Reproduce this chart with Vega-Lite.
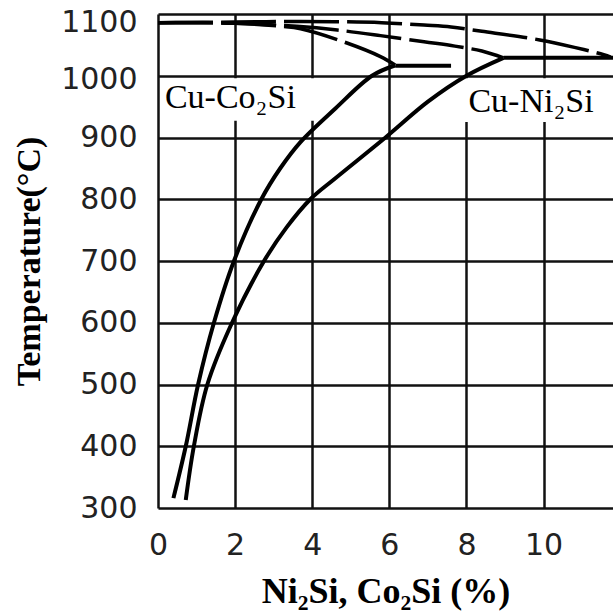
{
  "$schema": "https://vega.github.io/schema/vega-lite/v6.json",
  "width": 455,
  "height": 494,
  "autosize": {"type": "none"},
  "padding": {"left": 158, "top": 14, "right": 0, "bottom": 108},
  "background": "white",
  "config": {"view": {"stroke": null}},
  "encoding": {
    "x": {
      "field": "x",
      "type": "quantitative",
      "scale": {"domain": [0, 11.8], "nice": false, "zero": false},
      "axis": {
        "title": "Ni₂Si, Co₂Si (%)",
        "values": [0, 2, 4, 6, 8, 10],
        "format": "d",
        "grid": true,
        "gridColor": "#111111",
        "gridWidth": 2.5,
        "domain": false,
        "ticks": false,
        "tickSize": 0,
        "labelFlush": false,
        "labelOverlap": false,
        "labelFont": "DejaVu Sans",
        "labelFontSize": 30,
        "labelColor": "#222222",
        "labelPadding": 22,
        "titleFont": "Liberation Serif",
        "titleFontSize": 36,
        "titleFontWeight": "bold",
        "titleColor": "#000000",
        "titlePadding": 14
      }
    },
    "y": {
      "field": "y",
      "type": "quantitative",
      "scale": {"domain": [300, 1100], "nice": false, "zero": false},
      "axis": {
        "title": "Temperature(°C)",
        "values": [300, 400, 500, 600, 700, 800, 900, 1000, 1100],
        "format": "d",
        "grid": true,
        "gridColor": "#111111",
        "gridWidth": 2.5,
        "domain": false,
        "ticks": false,
        "tickSize": 0,
        "labelFlush": false,
        "labelOverlap": false,
        "labelFont": "DejaVu Sans",
        "labelFontSize": 30,
        "labelColor": "#222222",
        "labelPadding": 21,
        "labelOffset": {"condition": [{"test": "datum.value == 1100", "value": 8}, {"test": "datum.value == 1000", "value": 4}], "value": 0},
        "titleFont": "Liberation Serif",
        "titleFontSize": 34,
        "titleFontWeight": "bold",
        "titleColor": "#000000",
        "titlePadding": 14
      }
    }
  },
  "layer": [
    {
      "data": {"values": [
        {"box": "Cu-Co2Si", "x": 0.06, "x2": 4.07, "y": 996, "y2": 927},
        {"box": "Cu-Ni2Si", "x": 7.95, "x2": 11.6, "y": 996, "y2": 925}
      ]},
      "mark": {"type": "rect", "fill": "white", "stroke": null},
      "encoding": {"x2": {"field": "x2"}, "y2": {"field": "y2"}}
    },
    {
      "data": {"values": [
        {"series": "Co2Si solvus", "x": 0.40, "y": 316},
        {"series": "Co2Si solvus", "x": 0.72, "y": 400},
        {"series": "Co2Si solvus", "x": 1.04, "y": 500},
        {"series": "Co2Si solvus", "x": 1.45, "y": 600},
        {"series": "Co2Si solvus", "x": 1.97, "y": 700},
        {"series": "Co2Si solvus", "x": 2.68, "y": 800},
        {"series": "Co2Si solvus", "x": 3.18, "y": 851},
        {"series": "Co2Si solvus", "x": 3.7, "y": 893},
        {"series": "Co2Si solvus", "x": 4.6, "y": 947},
        {"series": "Co2Si solvus", "x": 5.55, "y": 1000},
        {"series": "Co2Si solvus", "x": 6.16, "y": 1017},
        {"series": "Ni2Si solvus", "x": 0.72, "y": 313},
        {"series": "Ni2Si solvus", "x": 0.93, "y": 400},
        {"series": "Ni2Si solvus", "x": 1.28, "y": 500},
        {"series": "Ni2Si solvus", "x": 1.92, "y": 600},
        {"series": "Ni2Si solvus", "x": 2.75, "y": 700},
        {"series": "Ni2Si solvus", "x": 3.33, "y": 754},
        {"series": "Ni2Si solvus", "x": 3.95, "y": 800},
        {"series": "Ni2Si solvus", "x": 4.6, "y": 834},
        {"series": "Ni2Si solvus", "x": 5.9, "y": 900},
        {"series": "Ni2Si solvus", "x": 7.0, "y": 958},
        {"series": "Ni2Si solvus", "x": 8.0, "y": 1000},
        {"series": "Ni2Si solvus", "x": 8.96, "y": 1029},
        {"series": "Co2Si eutectic", "x": 6.16, "y": 1016},
        {"series": "Co2Si eutectic", "x": 7.6, "y": 1016},
        {"series": "Ni2Si eutectic", "x": 8.96, "y": 1029},
        {"series": "Ni2Si eutectic", "x": 11.8, "y": 1029}
      ]},
      "mark": {"type": "line", "color": "black", "strokeWidth": 4, "interpolate": "catmull-rom", "clip": true},
      "encoding": {"detail": {"field": "series"}}
    },
    {
      "data": {"values": [
        {"series": "A", "x": 0, "y": 1086},
        {"series": "A", "x": 2, "y": 1087},
        {"series": "A", "x": 3.7, "y": 1088},
        {"series": "A", "x": 5.8, "y": 1086},
        {"series": "A", "x": 6.9, "y": 1082},
        {"series": "A", "x": 7.6, "y": 1079},
        {"series": "A", "x": 8.4, "y": 1072},
        {"series": "A", "x": 9.9, "y": 1058},
        {"series": "A", "x": 10.8, "y": 1046},
        {"series": "A", "x": 11.56, "y": 1034},
        {"series": "A", "x": 11.74, "y": 1030},
        {"series": "B", "x": 0, "y": 1086},
        {"series": "B", "x": 2, "y": 1085},
        {"series": "B", "x": 3.6, "y": 1080},
        {"series": "B", "x": 4.65, "y": 1074},
        {"series": "B", "x": 5.77, "y": 1065},
        {"series": "B", "x": 6.9, "y": 1055},
        {"series": "B", "x": 7.7, "y": 1048},
        {"series": "B", "x": 8.4, "y": 1040},
        {"series": "B", "x": 8.96, "y": 1029},
        {"series": "C", "x": 0, "y": 1086},
        {"series": "C", "x": 2, "y": 1085},
        {"series": "C", "x": 3.2, "y": 1080},
        {"series": "C", "x": 3.7, "y": 1076},
        {"series": "C", "x": 4.9, "y": 1053},
        {"series": "C", "x": 5.77, "y": 1031},
        {"series": "C", "x": 6.16, "y": 1017}
      ]},
      "mark": {"type": "line", "color": "black", "strokeWidth": 3.5, "strokeDash": [55, 8], "interpolate": "catmull-rom", "clip": true},
      "encoding": {"detail": {"field": "series"}}
    },
    {
      "data": {"values": [
        {"label": "Cu-Co₂Si", "x": 0.18, "y": 964},
        {"label": "Cu-Ni₂Si", "x": 8.05, "y": 958}
      ]},
      "mark": {"type": "text", "align": "left", "baseline": "middle", "font": "Liberation Serif", "fontSize": 34, "color": "black"},
      "encoding": {"text": {"field": "label"}}
    }
  ]
}
